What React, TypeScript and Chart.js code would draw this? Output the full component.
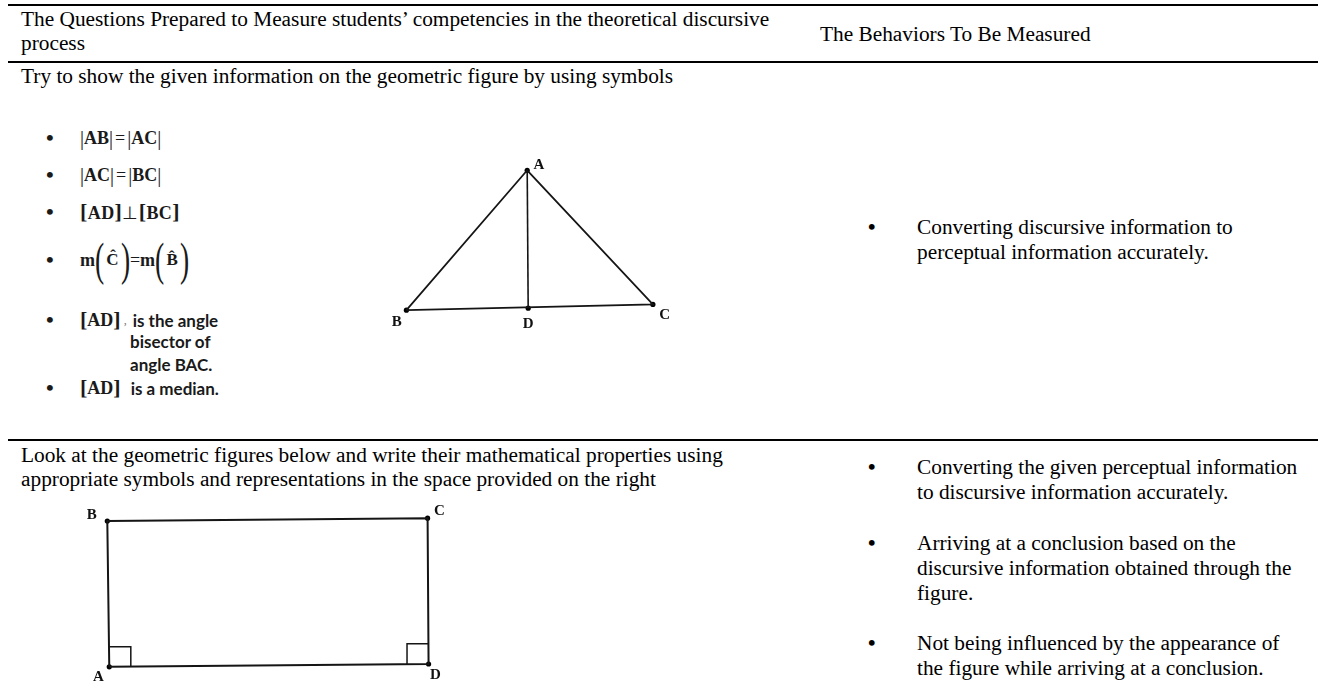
import React, { useEffect, useRef } from "react";
import { Chart, registerables } from "chart.js";

Chart.register(...registerables);

// ---- Figure data (figure-local units, y up) ----
const TRI_NAMES = ["A", "B", "C", "D"];
const TRI_X = [147, 23, 276, 148];
const TRI_Y = [173, 27, 33, 29];
const TRI_LABEL_X = [159, 13, 288, 148];
const TRI_LABEL_Y = [178, 15, 22, 12];
const TRI_SIDES = ["B", "A", "C", "B"];
const TRI_ALTITUDE = ["A", "D"];

const RECT_NAMES = ["A", "B", "C", "D"];
const RECT_X = [36, 34, 361, 362];
const RECT_Y = [21, 173, 176, 24];
const RECT_LABEL_X = [25, 18, 373, 369];
const RECT_LABEL_Y = [10, 179, 183, 12];
const RECT_OUTLINE = ["A", "B", "C", "D", "A"];
const RIGHT_ANGLES = ["A", "D"];
const RIGHT_ANGLE_W = 22;
const RIGHT_ANGLE_H = 21;

// ---- Text content ----
const HEADER_LEFT = [
  "The Questions Prepared to Measure students\u2019 competencies in the theoretical discursive",
  "process",
];
const HEADER_RIGHT = "The Behaviors To Be Measured";
const Q1 = "Try to show the given information on the geometric figure by using symbols";
const Q2 = [
  "Look at the geometric figures below and write their mathematical properties using",
  "appropriate symbols and representations in the space provided on the right",
];
const B1 = [["Converting discursive information to", "perceptual information accurately."]];
const B2 = [
  ["Converting the given perceptual information", "to discursive information accurately."],
  ["Arriving at a conclusion based on the", "discursive information obtained through the", "figure."],
  ["Not being influenced by the appearance of", "the figure while arriving at a conclusion."],
];
const B2_TOPS = [455, 531, 631];

const SERIF = '"Liberation Serif", "Times New Roman", serif';
const SANS = 'Lato, "Open Sans", sans-serif';

function pt(names: string[], xs: number[], ys: number[], n: string) {
  const i = names.indexOf(n);
  return { x: xs[i], y: ys[i] };
}

const labelPlugin = {
  id: "vertexLabels",
  afterDatasetsDraw(chart: any, _args: any, opts: any) {
    const { ctx, scales } = chart;
    ctx.save();
    ctx.font = 'bold 15px "Liberation Serif", serif';
    ctx.fillStyle = "#111";
    ctx.textAlign = "center";
    ctx.textBaseline = "middle";
    (opts.labels || []).forEach((l: any) => {
      ctx.fillText(l.text, scales.x.getPixelForValue(l.x), scales.y.getPixelForValue(l.y));
    });
    ctx.restore();
  },
};

function baseOptions(w: number, h: number, labels: any[]) {
  return {
    responsive: false,
    animation: false as const,
    events: [] as any[],
    layout: { padding: 0 },
    plugins: {
      legend: { display: false },
      tooltip: { enabled: false },
      vertexLabels: { labels },
    },
    scales: {
      x: { type: "linear" as const, min: 0, max: w, display: false },
      y: { type: "linear" as const, min: 0, max: h, display: false },
    },
  };
}

function lineDs(data: any[], width: number) {
  return {
    data,
    showLine: true,
    borderColor: "#151515",
    borderWidth: width,
    pointRadius: 0,
    fill: false,
    tension: 0,
  };
}

function FigureCharts() {
  const triRef = useRef<HTMLCanvasElement>(null);
  const rectRef = useRef<HTMLCanvasElement>(null);

  useEffect(() => {
    const triPts = TRI_NAMES.map((n) => pt(TRI_NAMES, TRI_X, TRI_Y, n));
    const triLabels = TRI_NAMES.map((n, i) => ({ text: n, x: TRI_LABEL_X[i], y: TRI_LABEL_Y[i] }));
    const tri = new Chart(triRef.current!, {
      type: "scatter",
      data: {
        datasets: [
          lineDs(TRI_SIDES.map((n) => pt(TRI_NAMES, TRI_X, TRI_Y, n)), 1.8),
          lineDs(TRI_ALTITUDE.map((n) => pt(TRI_NAMES, TRI_X, TRI_Y, n)), 1.6),
          {
            data: triPts,
            showLine: false,
            pointRadius: 2.6,
            pointBackgroundColor: "#000",
            pointBorderWidth: 0,
          } as any,
        ],
      },
      options: baseOptions(310, 190, triLabels) as any,
      plugins: [labelPlugin],
    });

    const rectPts = RECT_NAMES.map((n) => pt(RECT_NAMES, RECT_X, RECT_Y, n));
    const rectLabels = RECT_NAMES.map((n, i) => ({ text: n, x: RECT_LABEL_X[i], y: RECT_LABEL_Y[i] }));
    const squares = RIGHT_ANGLES.map((n) => {
      const p = pt(RECT_NAMES, RECT_X, RECT_Y, n);
      const dir = p.x < 200 ? 1 : -1;
      return [
        { x: p.x, y: p.y + RIGHT_ANGLE_H },
        { x: p.x + dir * RIGHT_ANGLE_W, y: p.y + RIGHT_ANGLE_H },
        { x: p.x + dir * RIGHT_ANGLE_W, y: p.y },
      ];
    });
    const rect = new Chart(rectRef.current!, {
      type: "scatter",
      data: {
        datasets: [
          lineDs(RECT_OUTLINE.map((n) => pt(RECT_NAMES, RECT_X, RECT_Y, n)), 2),
          ...squares.map((s) => lineDs(s, 1.5)),
          {
            data: rectPts,
            showLine: false,
            pointRadius: 2.6,
            pointBackgroundColor: "#000",
            pointBorderWidth: 0,
          } as any,
        ],
      },
      options: baseOptions(390, 196, rectLabels) as any,
      plugins: [labelPlugin],
    });

    return () => {
      tri.destroy();
      rect.destroy();
    };
  }, []);

  return (
    <>
      <canvas
        ref={triRef}
        width={310}
        height={190}
        style={{ position: "absolute", left: 380, top: 150, width: 310, height: 190 }}
      />
      <canvas
        ref={rectRef}
        width={390}
        height={196}
        style={{ position: "absolute", left: 70, top: 495, width: 390, height: 196 }}
      />
    </>
  );
}

function Rule({ top }: { top: number }) {
  return (
    <div style={{ position: "absolute", left: 8, top, width: 1310, height: 2, background: "#000" }} />
  );
}

function Lines({ left, top, lines, lh }: { left: number; top: number; lines: string[]; lh: number }) {
  return (
    <div
      style={{
        position: "absolute",
        left,
        top,
        fontFamily: SERIF,
        fontSize: 21.33,
        lineHeight: lh + "px",
        whiteSpace: "nowrap",
        color: "#000",
      }}
    >
      {lines.map((l, i) => (
        <div key={i}>{l}</div>
      ))}
    </div>
  );
}

function RightBullet({ top, lines }: { top: number; lines: string[] }) {
  return (
    <>
      <div
        style={{
          position: "absolute",
          left: 868,
          top,
          fontFamily: SERIF,
          fontSize: 21.33,
          fontWeight: 700,
          lineHeight: "25px",
        }}
      >
        •
      </div>
      <Lines left={917} top={top} lines={lines} lh={25} />
    </>
  );
}

function ListItem({ cy, children }: { cy: number; children: React.ReactNode }) {
  return (
    <div
      style={{
        position: "absolute",
        left: 0,
        top: cy - 22,
        height: 44,
        display: "flex",
        alignItems: "center",
        color: "#1a1a1a",
      }}
    >
      <span
        style={{
          position: "absolute",
          left: 46,
          fontFamily: SERIF,
          fontSize: 22,
          fontWeight: 700,
          lineHeight: "44px",
        }}
      >
        •
      </span>
      <span
        style={{
          position: "absolute",
          left: 80,
          display: "flex",
          alignItems: "center",
          whiteSpace: "nowrap",
          fontFamily: SERIF,
          fontWeight: 700,
          fontSize: 18,
        }}
      >
        {children}
      </span>
    </div>
  );
}

const eq: React.CSSProperties = { margin: "0 2px", fontWeight: 400 };
const bar: React.CSSProperties = { fontWeight: 400, fontSize: 20 };
const brk: React.CSSProperties = { fontSize: 22 };
const paren: React.CSSProperties = {
  fontSize: 46,
  fontWeight: 400,
  lineHeight: "44px",
  transform: "scaleX(0.6)",
  display: "inline-block",
  margin: "0 -3px",
};
const hatLetter: React.CSSProperties = { fontSize: 17, lineHeight: "22px", margin: "0 2px" };

const sansText: React.CSSProperties = { fontFamily: SANS, fontWeight: 700, fontSize: 17, color: "#1a1a1a" };

export default function App() {
  return (
    <div
      style={{
        position: "absolute",
        left: 0,
        top: 0,
        width: 1318,
        height: 691,
        overflow: "hidden",
        background: "#fff",
      }}
    >
      <Rule top={4} />
      <Lines left={21} top={7} lines={HEADER_LEFT} lh={24} />
      <Lines left={820} top={22} lines={[HEADER_RIGHT]} lh={24} />
      <Rule top={61} />
      <Lines left={21} top={64} lines={[Q1]} lh={24} />

      <ListItem cy={138}>
        <span style={bar}>|</span>AB<span style={bar}>|</span>
        <span style={eq}>=</span>
        <span style={bar}>|</span>AC<span style={bar}>|</span>
      </ListItem>
      <ListItem cy={175}>
        <span style={bar}>|</span>AC<span style={bar}>|</span>
        <span style={eq}>=</span>
        <span style={bar}>|</span>BC<span style={bar}>|</span>
      </ListItem>
      <ListItem cy={212}>
        <span style={{ letterSpacing: 0.4 }}>
          <span style={brk}>[</span>AD<span style={brk}>]</span>
          <span style={{ fontWeight: 400 }}>⊥</span>
          <span style={brk}>[</span>BC<span style={brk}>]</span>
        </span>
      </ListItem>
      <ListItem cy={260}>
        m<span style={paren}>(</span>
        <span style={hatLetter}>Ĉ</span>
        <span style={paren}>)</span>
        <span style={{ fontWeight: 400 }}>=</span>m<span style={paren}>(</span>
        <span style={hatLetter}>{"B\u0302"}</span>
        <span style={paren}>)</span>
      </ListItem>
      <ListItem cy={320}>
        <span style={brk}>[</span>AD<span style={brk}>]</span>
        <span style={{ fontWeight: 400, fontSize: 12, color: "#777", margin: "0 6px 0 3px" }}>,</span>
        <span style={sansText}>is the angle</span>
      </ListItem>
      <div style={{ position: "absolute", left: 130, top: 330, lineHeight: "23px", ...sansText }}>
        <div>bisector of</div>
        <div>angle BAC.</div>
      </div>
      <ListItem cy={388}>
        <span style={brk}>[</span>AD<span style={brk}>]</span>
        <span style={{ ...sansText, marginLeft: 10 }}>is a median.</span>
      </ListItem>

      <RightBullet top={215} lines={B1[0]} />

      <Rule top={439} />
      <Lines left={21} top={443} lines={Q2} lh={24} />
      {B2.map((lines, i) => (
        <RightBullet key={i} top={B2_TOPS[i]} lines={lines} />
      ))}

      <FigureCharts />
    </div>
  );
}
